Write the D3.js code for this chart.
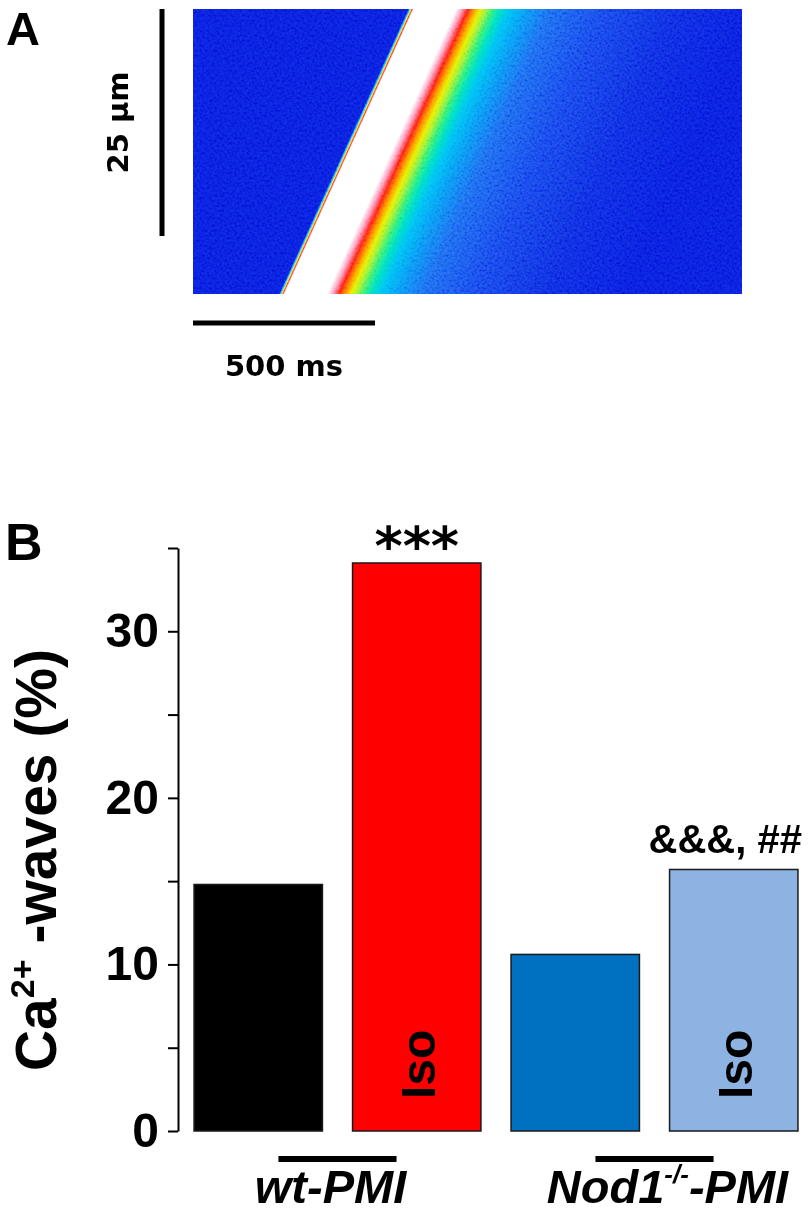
<!DOCTYPE html>
<html>
<head>
<meta charset="utf-8">
<script src="https://cdn.jsdelivr.net/npm/d3@7"></script>
<style>
  html, body { margin: 0; padding: 0; background: #fff; }
  svg { display: block; }
</style>
</head>
<body>
<div id="chart"></div>
<script>
// Panel B: Ca2+ waves per group
const categories = ['wt', 'wt-iso', 'nod1', 'nod1-iso']
const groupNames = ['wt-PMI', 'Nod1-PMI']
const groupOf = [0, 0, 1, 1]
const values = [14.8, 34.1, 10.6, 15.7]
const barColors = ['#000000', '#ff0000', '#0070c0', '#8db3e2']
const isoFlags = [false, true, false, true]
const marks = ['', '***', '', '&&&, ##']
const majorTicks = [0, 10, 20, 30]
const allTicks = [0, 5, 10, 15, 20, 25, 30, 35]

// Panel A: line-scan of a propagating wave
const scanTimeMs = 1508
const scanLengthUm = 31.4
const scaleBarMs = 500
const scaleBarUm = 25
const waveFront = [{ um: 0, ms: 602 }, { um: 31.4, ms: 247 }]
const profileMs = [-11, -6, -3, 0, 4, 121, 137, 154, 170, 187, 203, 220, 242, 269, 316, 385, 522, 714, 934]
const profileColors = ['#081ae0', '#30d8ff', '#f0f020', '#ff3030', '#ffffff', '#ffffff', '#ff9cc0', '#ff1a10',
  '#ff8a00', '#e8f000', '#a0f030', '#30f070', '#00e0c0', '#00c0f4', '#0898f4', '#1868f0', '#1444ec', '#0c28e2', '#081ae0']

const config = {
  width: 808,
  height: 1213,
  kymo: { left: 193, right: 742, top: 9, bottom: 294 },
  plot: { left: 178, right: 813, top: 548, bottom: 1131 },
  font: '"Liberation Sans", Arial, sans-serif',
  scaleFont: '"DejaVu Sans", Verdana, sans-serif'
}

const svg = d3.select('#chart')
  .append('svg')
  .attr('width', config.width)
  .attr('height', config.height)
  .attr('viewBox', `0 0 ${config.width} ${config.height}`)

const defs = svg.append('defs')

renderScan()
renderBars()

/**
 * Panel A
 */
function renderScan() {
  const { kymo } = config
  const tScale = d3.scaleLinear().domain([0, scanTimeMs]).range([kymo.left, kymo.right])
  const uScale = d3.scaleLinear().domain([0, scanLengthUm]).range([kymo.top, kymo.bottom])
  const pxPerMs = tScale(1) - tScale(0)

  // wave front as a slanted gradient
  const fx0 = tScale(waveFront[0].ms), fy0 = uScale(waveFront[0].um)
  const fx1 = tScale(waveFront[1].ms), fy1 = uScale(waveFront[1].um)
  const k = (fx1 - fx0) / (fy1 - fy0)
  const xAtZero = fx0 - k * fy0
  const lo = profileMs[0], hi = profileMs[profileMs.length - 1]

  const grad = defs.append('linearGradient')
    .attr('id', 'wave')
    .attr('gradientUnits', 'userSpaceOnUse')
    .attr('x1', xAtZero + lo * pxPerMs)
    .attr('x2', xAtZero + hi * pxPerMs)
    .attr('y1', 0)
    .attr('y2', 0)
    .attr('gradientTransform', `skewX(${Math.atan(k) * 180 / Math.PI})`)

  grad.selectAll('stop')
    .data(profileMs)
    .enter()
    .append('stop')
    .attr('offset', d => (d - lo) / (hi - lo))
    .attr('stop-color', (d, i) => profileColors[i])

  const grain = defs.append('filter')
    .attr('id', 'grain')
    .attr('x', 0).attr('y', 0).attr('width', '100%').attr('height', '100%')
  grain.append('feTurbulence')
    .attr('type', 'fractalNoise')
    .attr('baseFrequency', 0.4)
    .attr('numOctaves', 2)
    .attr('seed', 7)
  grain.append('feColorMatrix')
    .attr('type', 'matrix')
    .attr('values', '1.8 0 0 0 -0.4  1.8 0 0 0 -0.4  1.8 0 0 0 -0.4  0 0 0 0 1')

  svg.append('rect')
    .attr('x', tScale(0))
    .attr('y', uScale(0))
    .attr('width', tScale(scanTimeMs) - tScale(0))
    .attr('height', uScale(scanLengthUm) - uScale(0))
    .attr('fill', 'url(#wave)')

  svg.append('rect')
    .attr('x', tScale(0))
    .attr('y', uScale(0))
    .attr('width', tScale(scanTimeMs) - tScale(0))
    .attr('height', uScale(scanLengthUm) - uScale(0))
    .attr('filter', 'url(#grain)')
    .style('mix-blend-mode', 'soft-light')
    .attr('opacity', 0.45)

  // scale bars
  svg.append('line')
    .attr('x1', kymo.left - 31).attr('x2', kymo.left - 31)
    .attr('y1', uScale(0)).attr('y2', uScale(scaleBarUm))
    .attr('stroke', '#000').attr('stroke-width', 5)

  svg.append('line')
    .attr('x1', tScale(0)).attr('x2', tScale(scaleBarMs))
    .attr('y1', kymo.bottom + 29).attr('y2', kymo.bottom + 29)
    .attr('stroke', '#000').attr('stroke-width', 5)

  svg.append('text')
    .attr('transform', `translate(${kymo.left - 65},${(uScale(0) + uScale(scaleBarUm)) / 2}) rotate(-90)`)
    .attr('text-anchor', 'middle')
    .attr('font-family', config.scaleFont)
    .attr('font-weight', 'bold')
    .attr('font-size', 29)
    .text(`${scaleBarUm} µm`)

  svg.append('text')
    .attr('x', (tScale(0) + tScale(scaleBarMs)) / 2)
    .attr('y', kymo.bottom + 82)
    .attr('text-anchor', 'middle')
    .attr('font-family', config.scaleFont)
    .attr('font-weight', 'bold')
    .attr('font-size', 29)
    .text(`${scaleBarMs} ms`)

  svg.append('text')
    .attr('x', 6).attr('y', 45)
    .attr('font-family', '"Liberation Sans Narrow", ' + config.font)
    .attr('font-weight', 'bold')
    .attr('font-size', 47)
    .text('A')
}

/**
 * Panel B
 */
function renderBars() {
  const { plot, font } = config

  const x = d3.scaleBand()
    .domain(categories)
    .range([plot.left + 1, plot.right])
    .paddingInner(0.19)
    .paddingOuter(0.095)

  const y = d3.scaleLinear()
    .domain([0, 35])
    .range([plot.bottom, plot.top])

  // axis
  const axis = svg.append('g')
    .attr('transform', `translate(${plot.left},0)`)
    .call(d3.axisLeft(y)
      .tickValues(allTicks)
      .tickSize(10)
      .tickSizeOuter(0)
      .tickPadding(9)
      .tickFormat(d => majorTicks.includes(d) ? d : ''))

  axis.select('.domain').attr('stroke-width', 2)
  axis.selectAll('.tick line').attr('stroke-width', 2)
  axis.selectAll('.tick text')
    .attr('font-family', font)
    .attr('font-weight', 'bold')
    .attr('font-size', 48)
    .attr('fill', '#000')

  // bars
  svg.selectAll('.bar')
    .data(categories)
    .enter()
    .append('rect')
    .attr('class', 'bar')
    .attr('x', d => x(d))
    .attr('y', (d, i) => y(values[i]))
    .attr('width', x.bandwidth())
    .attr('height', (d, i) => y(0) - y(values[i]))
    .attr('fill', (d, i) => barColors[i])
    .attr('stroke', '#1a1a1a')
    .attr('stroke-width', 1.5)

  // Iso labels inside bars
  svg.selectAll('.iso')
    .data(categories.filter((d, i) => isoFlags[i]))
    .enter()
    .append('text')
    .attr('class', 'iso')
    .attr('transform', d => `translate(${x(d) + x.bandwidth() / 2 + 18},${y(0) - 32}) rotate(-90)`)
    .attr('font-family', font)
    .attr('font-weight', 'bold')
    .attr('font-size', 48)
    .text('Iso')

  // significance marks
  svg.append('text')
    .attr('x', x(categories[1]) + x.bandwidth() / 2)
    .attr('y', y(values[1]) + 2)
    .attr('text-anchor', 'middle')
    .attr('font-family', config.scaleFont)
    .attr('font-weight', 'bold')
    .attr('font-size', 54)
    .text(marks[1])

  svg.append('text')
    .attr('x', x(categories[3]) + x.bandwidth() + 4)
    .attr('y', y(values[3]) - 16)
    .attr('text-anchor', 'end')
    .attr('font-family', font)
    .attr('font-weight', 'bold')
    .attr('font-size', 40)
    .text(marks[3])

  // group lines and labels
  const labelShift = [-7, 13]
  groupNames.forEach((g, gi) => {
    const cats = categories.filter((d, i) => groupOf[i] === gi)
    const cx = (x(cats[0]) + x(cats[cats.length - 1]) + x.bandwidth()) / 2
    const half = x.bandwidth() * 0.46

    svg.append('line')
      .attr('x1', cx - half).attr('x2', cx + half)
      .attr('y1', plot.bottom + 28).attr('y2', plot.bottom + 28)
      .attr('stroke', '#000').attr('stroke-width', 6)

    const label = svg.append('text')
      .attr('x', cx + labelShift[gi])
      .attr('y', plot.bottom + 72)
      .attr('text-anchor', 'middle')
      .attr('font-family', font)
      .attr('font-weight', 'bold')
      .attr('font-style', 'italic')
      .attr('font-size', 47)

    if (gi === 0) {
      label.text(g)
    } else {
      label.append('tspan').text('Nod1')
      label.append('tspan').attr('font-size', 26).attr('dy', -20).text('-/-')
      label.append('tspan').attr('dy', 20).text('-PMI')
    }
  })

  // y title
  const title = svg.append('text')
    .attr('transform', `translate(56,860) rotate(-90)`)
    .attr('text-anchor', 'middle')
    .attr('font-family', font)
    .attr('font-weight', 'bold')
    .attr('font-size', 57)
  title.append('tspan').text('Ca')
  title.append('tspan').attr('font-size', 34).attr('dy', -22).text('2+')
  title.append('tspan').attr('dy', 22).text(' -waves (%)')

  svg.append('text')
    .attr('x', 5).attr('y', 560)
    .attr('font-family', font)
    .attr('font-weight', 'bold')
    .attr('font-size', 52)
    .text('B')
}
</script>
</body>
</html>
